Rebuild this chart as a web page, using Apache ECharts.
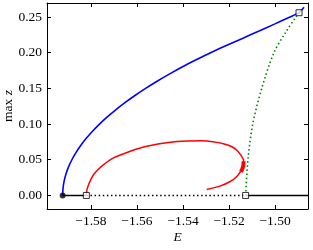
<!DOCTYPE html>
<html>
<head>
<meta charset="utf-8">
<script src="https://cdn.jsdelivr.net/npm/echarts@6/dist/echarts.min.js"></script>
<style>
html,body{margin:0;padding:0;background:#fff;}
#c{width:313px;height:250px;}
</style>
</head>
<body>
<div id="c"></div>
<script>
// ---- data ----
var blueE = [-1.5923, -1.59214, -1.59166, -1.59086, -1.58974, -1.58829, -1.58653, -1.58445, -1.58205, -1.57932, -1.57628, -1.57291, -1.56923, -1.56522, -1.56089, -1.55625, -1.55128, -1.54599, -1.54039, -1.5343, -1.5280, -1.5212, -1.5142, -1.5072, -1.5003, -1.4935, -1.4896, -1.4874];
var blueZ = [0.0, 0.01, 0.02, 0.03, 0.04, 0.05, 0.06, 0.07, 0.08, 0.09, 0.10, 0.11, 0.12, 0.13, 0.14, 0.15, 0.16, 0.17, 0.18, 0.19, 0.20, 0.21, 0.22, 0.23, 0.24, 0.25, 0.256, 0.2635];

var redE = [-1.5820, -1.58175, -1.5810, -1.5800, -1.5789, -1.5770, -1.5745, -1.5702, -1.5629, -1.5557, -1.5456, -1.5380, -1.5320, -1.5270, -1.5225, -1.5190, -1.5165, -1.5148, -1.5137, -1.5138, -1.5147, -1.5165, -1.5195, -1.5240, -1.5297];
var redZ = [0.0, 0.0078, 0.0154, 0.0225, 0.029, 0.036, 0.0433, 0.0526, 0.0619, 0.0689, 0.0745, 0.0762, 0.0765, 0.0752, 0.0725, 0.0685, 0.0630, 0.0560, 0.0490, 0.0420, 0.0350, 0.0270, 0.0195, 0.0130, 0.0084];

var redThickE = [-1.5137, -1.5138, -1.5142, -1.5148];
var redThickZ = [0.0480, 0.0420, 0.0375, 0.0330];

var greenE = [-1.5128, -1.5118, -1.5097, -1.5058, -1.5005, -1.4957, -1.4910, -1.4896];
var greenZ = [0.0, 0.05, 0.10, 0.15, 0.20, 0.227, 0.250, 0.256];

var blackSolidLeftE = [-1.5923, -1.5820];
var blackDottedE = [-1.5820, -1.5128];
var blackSolidRightE = [-1.5128, -1.4857];

var circleE = [-1.5923]; var circleZ = [0.0];
var squareE = [-1.5820, -1.5128, -1.4896]; var squareZ = [0.0, 0.0, 0.256];

var xTicks = [-1.58, -1.56, -1.54, -1.52, -1.50];
var yTicks = [0.00, 0.05, 0.10, 0.15, 0.20, 0.25];
var xMin = -1.5991, xMax = -1.4857, yMin = -0.019, yMax = 0.2696;

// ---- helpers ----
function pairs(xs, ys) { return xs.map(function (x, i) { return [x, ys[i]]; }); }
function flat(xs) { return xs.map(function (x) { return [x, 0]; }); }
function fmtX(v) { return (v < 0 ? '\u2212' : '') + Math.abs(v).toFixed(2); }
function fmtY(v) { return v.toFixed(2); }

var font = '"Liberation Serif", serif';
var fs = 13.5;
var axisBase = {
  type: 'value', scale: true,
  axisLine: { show: true, onZero: false, lineStyle: { color: '#000', width: 1 } },
  splitLine: { show: false }
};
function xAx(pos, labels) {
  return Object.assign({}, axisBase, {
    position: pos, min: xMin, max: xMax,
    axisTick: { show: true, inside: true, length: 4, lineStyle: { color: '#000' }, customValues: xTicks },
    axisLabel: labels ? { show: true, customValues: xTicks, formatter: fmtX, fontFamily: font, fontSize: fs, color: '#000', margin: 5 } : { show: false },
    name: labels ? 'E' : '', nameLocation: 'middle', nameGap: 21, nameMoveOverlap: false,
    nameTextStyle: { fontFamily: font, fontStyle: 'italic', fontSize: fs, color: '#000' }
  });
}
function yAx(pos, labels) {
  return Object.assign({}, axisBase, {
    position: pos, min: yMin, max: yMax,
    axisTick: { show: true, inside: true, length: 4, lineStyle: { color: '#000' }, customValues: yTicks },
    axisLabel: labels ? { show: true, customValues: yTicks, formatter: fmtY, fontFamily: font, fontSize: fs, color: '#000', margin: 5 } : { show: false },
    name: labels ? '{a|max }{b|z}' : '', nameLocation: 'middle', nameGap: 32, nameRotate: 90, nameMoveOverlap: false,
    nameTextStyle: { color: '#000', rich: { a: { fontFamily: font, fontSize: fs, color: '#000' }, b: { fontFamily: font, fontSize: fs, fontStyle: 'italic', color: '#000' } } }
  });
}

var lineBase = { type: 'line', showSymbol: false, symbol: 'none', silent: true, animation: false, xAxisIndex: 0, yAxisIndex: 0 };
function line(data, color, width, type, smooth, z) {
  return Object.assign({}, lineBase, { data: data, smooth: smooth || false, z: z || 2,
    lineStyle: { color: color, width: width, type: type || 'solid', cap: 'butt' } });
}

var chart = echarts.init(document.getElementById('c'), null, { renderer: 'canvas' });
chart.setOption({
  animation: false,
  backgroundColor: '#fff',
  grid: { left: 47, right: 5, top: 3, bottom: 41, containLabel: false, outerBoundsMode: 'none' },
  xAxis: [xAx('bottom', true), xAx('top', false)],
  yAxis: [yAx('left', true), yAx('right', false)],
  series: [
    line(flat(blackSolidLeftE), '#000', 1.6, 'solid'),
    line(flat(blackDottedE), '#000', 1.5, [1.5, 2.6]),
    line(flat(blackSolidRightE), '#000', 1.6, 'solid'),
    line(pairs(greenE, greenZ), '#008000', 1.6, [1.5, 2.6], 0.3),
    line(pairs(redE, redZ), '#ff0000', 1.5, 'solid', 0.2),
    line(pairs(redThickE, redThickZ), '#ff0000', 4, 'solid', 0.3),
    line(pairs(blueE, blueZ), '#0000ff', 1.6, 'solid', 0.2),
    { type: 'scatter', data: pairs(circleE, circleZ), symbol: 'circle', symbolSize: 6, silent: true, z: 5,
      itemStyle: { color: '#000' } },
    { type: 'scatter', data: pairs(squareE, squareZ), symbol: 'rect', symbolSize: 6, silent: true, z: 5,
      itemStyle: { color: '#fff', borderColor: '#000', borderWidth: 1 } }
  ]
});
</script>
</body>
</html>
